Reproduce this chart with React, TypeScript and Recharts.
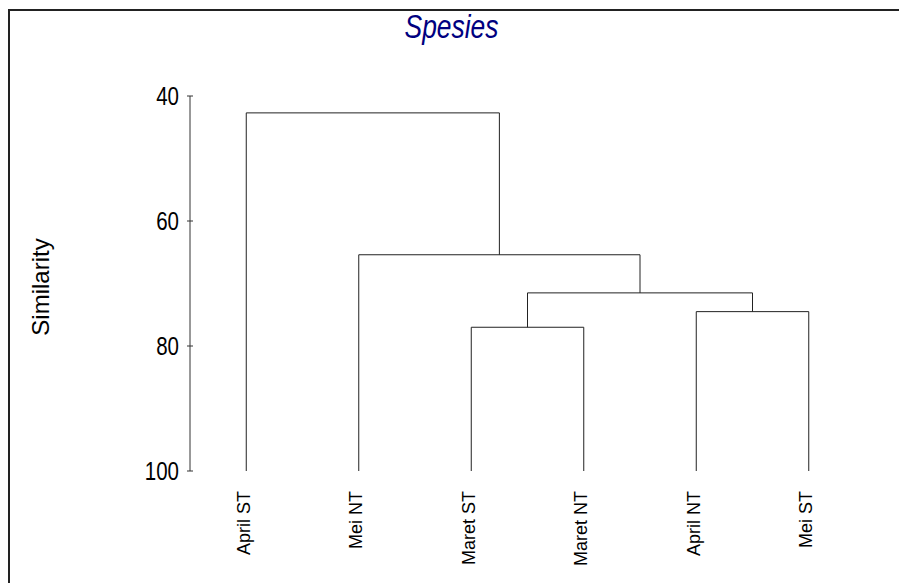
import { ComposedChart, Line, XAxis, YAxis } from "recharts";

// leaves in dendrogram order
const leaves = ["April ST", "Mei NT", "Maret ST", "Maret NT", "April NT", "Mei ST"];
// merges: node ids 0-5 are leaves, merge k creates node 6 + k
const leftChild = [2, 4, 6, 1, 0];
const rightChild = [3, 5, 7, 8, 9];
const mergeSimilarity = [77.0, 74.5, 71.5, 65.4, 42.7];
const yTicks = [40, 60, 80, 100];
const title = "Spesies";
const yLabel = "Similarity";

const nodeX: number[] = leaves.map((_, i) => i);
const nodeY: number[] = leaves.map(() => 100);
const links = mergeSimilarity.map((h, k) => {
  const l = leftChild[k];
  const r = rightChild[k];
  nodeX.push((nodeX[l] + nodeX[r]) / 2);
  nodeY.push(h);
  return [
    { x: nodeX[l], y: nodeY[l] },
    { x: nodeX[l], y: h },
    { x: nodeX[r], y: h },
    { x: nodeX[r], y: nodeY[r] },
  ];
});

const sans = "'Liberation Sans', Arial, sans-serif";

const YTick = (props: any) => {
  const { x, y, payload } = props;
  return (
    <g>
      <line x1={x - 3} x2={x + 3} y1={y} y2={y} stroke="#333" />
      {/* condensed look, like Arial Narrow */}
      <text
        transform={`translate(${x - 11}, ${y}) scale(0.82, 1)`}
        dy="0.36em"
        textAnchor="end"
        fontFamily={sans}
        fontSize={25}
        fill="#000"
      >
        {payload.value}
      </text>
    </g>
  );
};

const XTick = (props: any) => {
  const { x, y, payload } = props;
  return (
    <g transform={`translate(${x + 3.5}, ${y + 20}) rotate(-90)`}>
      <text x={0} y={0} textAnchor="end" fontFamily={sans} fontSize={18} fill="#000">
        {leaves[payload.value]}
      </text>
    </g>
  );
};

export default function App() {
  return (
    <div style={{ position: "fixed", left: 0, top: 0, width: 899, height: 583, background: "#fff", overflow: "hidden" }}>
      <div
        style={{
          position: "absolute",
          left: 8,
          top: 9,
          width: 900,
          height: 600,
          borderLeft: "2px solid #222",
          borderTop: "2px solid #222",
        }}
      />
      <div style={{ position: "absolute", left: 0, top: 0 }}>
        <ComposedChart width={899} height={583} margin={{ top: 96, right: 34, bottom: 12, left: 130 }}>
          <XAxis
            type="number"
            dataKey="x"
            domain={[-0.5, 5.5]}
            ticks={[0, 1, 2, 3, 4, 5]}
            axisLine={false}
            tickLine={false}
            tickSize={0}
            tickMargin={0}
            height={100}
            interval={0}
            tick={<XTick />}
            label={{
              content: () => (
                <text
                  transform="translate(451.5, 38) scale(0.8, 1)"
                  textAnchor="middle"
                  fontFamily={sans}
                  fontStyle="italic"
                  fontSize={33}
                  fill="#000080"
                >
                  {title}
                </text>
              ),
            }}
          />
          <YAxis
            type="number"
            dataKey="y"
            domain={[40, 100]}
            reversed
            ticks={yTicks}
            width={60}
            axisLine={{ stroke: "#333" }}
            tickLine={false}
            tickSize={0}
            tickMargin={0}
            interval={0}
            tick={<YTick />}
            label={{
              content: () => (
                <text
                  transform="translate(49, 287) rotate(-90)"
                  textAnchor="middle"
                  fontFamily={sans}
                  fontSize={24}
                  fill="#000"
                >
                  {yLabel}
                </text>
              ),
            }}
          />
          {links.map((d, i) => (
            <Line
              key={i}
              data={d}
              dataKey="y"
              type="linear"
              stroke="#222"
              strokeWidth={1}
              dot={false}
              activeDot={false}
              isAnimationActive={false}
            />
          ))}
        </ComposedChart>
      </div>
    </div>
  );
}
